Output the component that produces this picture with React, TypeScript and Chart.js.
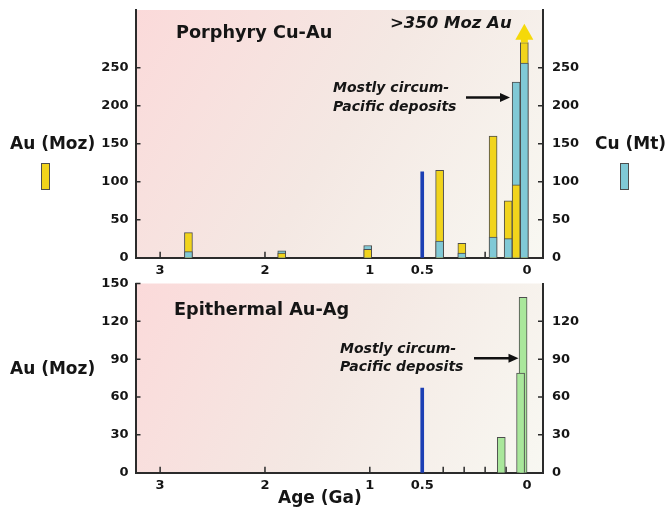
import React, { useEffect, useRef } from 'react';
import { Chart, registerables } from 'chart.js';

Chart.register(...registerables);

// ---------- data ----------
const xTickAges = [3, 2, 1, 0.5, 0];
const xTickLabels = ['3', '2', '1', '0.5', '0'];
const xMinorAges = [3, 2, 1, 0.4, 0.3, 0.2, 0.1];
const xAgeYoungEdge = -0.076;
const xAgeOldEdge = 3.235;

const porphyryAge = [2.73, 1.84, 1.02, 0.417, 0.311, 0.162, 0.09, 0.052, 0.013];
const porphyryAu = [33, 6, 11, 115, 19, 160, 75, 96, 283];
const porphyryCu = [8, 9, 16, 22, 6, 27, 25, 231, 256];
const porphyryTicks = [0, 50, 100, 150, 200, 250];
const porphyryMax = 326;
const porphyryArrowTip = 308; // ">350 Moz Au" arrow reaches this level

const epiAge = [0.123, 0.019, 0.031];
const epiAu = [28, 139, 79];
const epiLeftTicks = [0, 30, 60, 90, 120, 150];
const epiRightTicks = [0, 30, 60, 90, 120];
const epiMax = 150;

const markerAge = 0.5;
const porphyryMarker = 113;
const epiMarker = 67;

// ---------- style ----------
const AXIS_COLOR = '#2b2b2b';
const TEXT_COLOR = '#151515';
const YELLOW = '#f1d41c';
const ARROW_YELLOW = '#f5d90a';
const BLUE = '#80c9d6';
const GREEN = '#a9e79b';
const BAR_EDGE = '#4d4d4d';
const MARKER = '#1c3fb4';
const FONT = '"DejaVu Sans", "Liberation Sans", Arial, sans-serif';
const BOTTOM_TOP = 265;

// broken age axis: 0-0.5 Ga is stretched twice
const ageToU = (a: number) => (a <= 0.5 ? a * 2 : a + 0.5);

const tickFont = { family: FONT, size: 13, weight: 'bold' as const };

function drawText(ctx: CanvasRenderingContext2D, s: string, x: number, y: number, size: number, italic = false) {
  ctx.save();
  ctx.font = `${italic ? 'italic ' : ''}bold ${size}px ${FONT}`;
  ctx.fillStyle = TEXT_COLOR;
  ctx.textAlign = 'left';
  ctx.textBaseline = 'alphabetic';
  ctx.fillText(s, x, y);
  ctx.restore();
}

function drawArrow(ctx: CanvasRenderingContext2D, x1: number, x2: number, y: number) {
  ctx.save();
  ctx.strokeStyle = '#111';
  ctx.fillStyle = '#111';
  ctx.lineWidth = 2.5;
  ctx.beginPath();
  ctx.moveTo(x1, y);
  ctx.lineTo(x2 - 8, y);
  ctx.stroke();
  ctx.beginPath();
  ctx.moveTo(x2, y);
  ctx.lineTo(x2 - 10, y - 4.5);
  ctx.lineTo(x2 - 10, y + 4.5);
  ctx.closePath();
  ctx.fill();
  ctx.restore();
}

function swatch(ctx: CanvasRenderingContext2D, x: number, y: number, w: number, h: number, color: string) {
  ctx.save();
  ctx.fillStyle = color;
  ctx.fillRect(x, y, w, h);
  ctx.strokeStyle = BAR_EDGE;
  ctx.lineWidth = 1;
  ctx.strokeRect(x + 0.5, y + 0.5, w - 1, h - 1);
  ctx.restore();
}

const framePlugin = {
  id: 'frame',
  beforeDraw(chart: any) {
    const { ctx, chartArea: a } = chart;
    const g = ctx.createLinearGradient(a.left, a.top, a.right, a.bottom);
    g.addColorStop(0, '#fbdada');
    g.addColorStop(0.5, '#f4e8e3');
    g.addColorStop(1, '#f8f8f2');
    ctx.save();
    ctx.fillStyle = g;
    ctx.fillRect(a.left, a.top, a.right - a.left, a.bottom - a.top);
    ctx.restore();
  },
  beforeDatasetsDraw(chart: any) {
    const { ctx, chartArea: a, scales } = chart;
    ctx.save();
    ctx.strokeStyle = AXIS_COLOR;
    ctx.lineWidth = 1.5;
    ctx.beginPath();
    xMinorAges.forEach((age) => {
      const px = scales.x.getPixelForValue(ageToU(age));
      ctx.moveTo(px, a.bottom);
      ctx.lineTo(px, a.bottom - 6);
    });
    scales.y.ticks.forEach((t: any) => {
      const py = scales.y.getPixelForValue(t.value);
      ctx.moveTo(a.left, py);
      ctx.lineTo(a.left + 5, py);
    });
    scales.y2.ticks.forEach((t: any) => {
      const py = scales.y2.getPixelForValue(t.value);
      ctx.moveTo(a.right, py);
      ctx.lineTo(a.right - 5, py);
    });
    ctx.stroke();
    ctx.restore();
  },
};

const topOverlay = {
  id: 'topOverlay',
  afterDraw(chart: any) {
    const { ctx, scales } = chart;
    // yellow arrow for the >350 Moz bar
    const i = porphyryAu.length - 1;
    const x = scales.x.getPixelForValue(ageToU(porphyryAge[i]));
    const barTop = scales.y.getPixelForValue(porphyryAu[i]);
    const tip = scales.y.getPixelForValue(porphyryArrowTip);
    ctx.save();
    ctx.fillStyle = ARROW_YELLOW;
    ctx.fillRect(x - 3.5, tip + 15, 7, barTop - tip - 15);
    ctx.beginPath();
    ctx.moveTo(x, tip);
    ctx.lineTo(x - 9, tip + 16);
    ctx.lineTo(x + 9, tip + 16);
    ctx.closePath();
    ctx.fill();
    ctx.restore();

    drawText(ctx, 'Porphyry Cu-Au', 176, 38, 17.7);
    drawText(ctx, '>350 Moz Au', 390, 28, 16.5, true);
    drawText(ctx, 'Mostly circum-', 333, 92, 14, true);
    drawText(ctx, 'Pacific deposits', 333, 110.5, 14, true);
    drawArrow(ctx, 466, 510, 97.5);

    drawText(ctx, 'Au (Moz)', 10, 148.5, 17);
    drawText(ctx, 'Cu (Mt)', 595, 148.5, 17);
    swatch(ctx, 41, 163, 9, 27, YELLOW);
    swatch(ctx, 620, 163, 9, 27, BLUE);
  },
};

const bottomOverlay = {
  id: 'bottomOverlay',
  afterDraw(chart: any) {
    const { ctx } = chart;
    const o = BOTTOM_TOP;
    drawText(ctx, 'Epithermal Au-Ag', 174, 314.5 - o, 17.7);
    drawText(ctx, 'Mostly circum-', 340, 353 - o, 14, true);
    drawText(ctx, 'Pacific deposits', 340, 371 - o, 14, true);
    drawArrow(ctx, 474, 518.5, 358.3 - o);
    drawText(ctx, 'Au (Moz)', 10, 373.5 - o, 17);
    drawText(ctx, 'Age (Ga)', 278, 502.5 - o, 17);
  },
};

function xScale(bottomHeight: number) {
  return {
    type: 'linear' as const,
    reverse: true,
    offset: false,
    min: ageToU(xAgeYoungEdge),
    max: ageToU(xAgeOldEdge),
    grid: { display: false, drawTicks: false },
    border: { display: true, color: AXIS_COLOR, width: 2 },
    afterBuildTicks: (s: any) => {
      s.ticks = xTickAges.map((a) => ({ value: ageToU(a) }));
    },
    afterFit: (s: any) => {
      s.height = bottomHeight;
      s.paddingLeft = 0;
      s.paddingRight = 0;
    },
    ticks: {
      font: tickFont,
      color: TEXT_COLOR,
      padding: 5,
      maxRotation: 0,
      autoSkip: false,
      callback: (v: number) => {
        const k = xTickAges.findIndex((a) => Math.abs(ageToU(a) - v) < 1e-6);
        return k >= 0 ? xTickLabels[k] : '';
      },
    },
  };
}

function yScale(position: 'left' | 'right', max: number, ticks: number[], width: number, pad: number) {
  return {
    type: 'linear' as const,
    position,
    min: 0,
    max,
    grid: { display: false, drawTicks: false },
    border: { display: true, color: AXIS_COLOR, width: 2 },
    afterBuildTicks: (s: any) => {
      s.ticks = ticks.map((v) => ({ value: v }));
    },
    afterFit: (s: any) => {
      s.width = width;
      s.paddingTop = 0;
      s.paddingBottom = 0;
    },
    ticks: { font: tickFont, color: TEXT_COLOR, padding: pad },
  };
}

const barCommon = {
  barThickness: 8,
  grouped: false,
  borderWidth: 1,
  borderColor: BAR_EDGE,
};

function topConfig(): any {
  const pts = (vals: (number | null)[]) => vals.map((v, i) => ({ x: ageToU(porphyryAge[i]), y: v }));
  const auBack = porphyryAu.map((v, i) => (v >= porphyryCu[i] ? v : null));
  const cuBack = porphyryCu.map((v, i) => (v > porphyryAu[i] ? v : null));
  const auFront = porphyryAu.map((v, i) => (v < porphyryCu[i] ? v : null));
  const cuFront = porphyryCu.map((v, i) => (v <= porphyryAu[i] ? v : null));
  return {
    type: 'bar',
    data: {
      datasets: [
        { label: 'Au', data: pts(auBack), backgroundColor: YELLOW, yAxisID: 'y', order: 3, ...barCommon },
        { label: 'Cu', data: pts(cuBack), backgroundColor: BLUE, yAxisID: 'y2', order: 3, ...barCommon },
        { label: 'Au', data: pts(auFront), backgroundColor: YELLOW, yAxisID: 'y', order: 2, ...barCommon },
        { label: 'Cu', data: pts(cuFront), backgroundColor: BLUE, yAxisID: 'y2', order: 2, ...barCommon },
        {
          label: 'marker',
          data: [{ x: ageToU(markerAge), y: porphyryMarker }],
          backgroundColor: MARKER,
          barThickness: 3,
          grouped: false,
          borderWidth: 0,
          yAxisID: 'y',
          order: 1,
        },
      ],
    },
    options: {
      responsive: false,
      animation: false,
      devicePixelRatio: 1,
      layout: { padding: { top: 10, left: 0, right: 0, bottom: 0 } },
      plugins: { legend: { display: false }, tooltip: { enabled: false } },
      scales: {
        x: xScale(280 - 257.7),
        y: yScale('left', porphyryMax, porphyryTicks, 135.5, 7),
        y2: yScale('right', porphyryMax, porphyryTicks, 122, 9),
      },
    },
    plugins: [framePlugin, topOverlay],
  };
}

function bottomConfig(): any {
  return {
    type: 'bar',
    data: {
      datasets: [
        {
          label: 'Au',
          data: epiAu.map((v, i) => ({ x: ageToU(epiAge[i]), y: v })),
          backgroundColor: GREEN,
          yAxisID: 'y',
          order: 2,
          ...barCommon,
        },
        {
          label: 'marker',
          data: [{ x: ageToU(markerAge), y: epiMarker }],
          backgroundColor: MARKER,
          barThickness: 3,
          grouped: false,
          borderWidth: 0,
          yAxisID: 'y',
          order: 1,
        },
      ],
    },
    options: {
      responsive: false,
      animation: false,
      devicePixelRatio: 1,
      layout: { padding: { top: 283.5 - BOTTOM_TOP, left: 0, right: 0, bottom: 0 } },
      plugins: { legend: { display: false }, tooltip: { enabled: false } },
      scales: {
        x: xScale(511 - 472.7),
        y: yScale('left', epiMax, epiLeftTicks, 135.5, 7),
        y2: yScale('right', epiMax, epiRightTicks, 122, 9),
      },
    },
    plugins: [framePlugin, bottomOverlay],
  };
}

export default function App() {
  const topRef = useRef<HTMLCanvasElement>(null);
  const botRef = useRef<HTMLCanvasElement>(null);
  useEffect(() => {
    const c1 = new Chart(topRef.current as HTMLCanvasElement, topConfig());
    const c2 = new Chart(botRef.current as HTMLCanvasElement, bottomConfig());
    return () => {
      c1.destroy();
      c2.destroy();
    };
  }, []);
  return (
    <div style={{ position: 'absolute', left: 0, top: 0, width: 665, height: 511, background: '#fff', overflow: 'hidden' }}>
      <canvas ref={topRef} width={665} height={280} style={{ position: 'absolute', left: 0, top: 0, width: 665, height: 280 }} />
      <canvas
        ref={botRef}
        width={665}
        height={511 - BOTTOM_TOP}
        style={{ position: 'absolute', left: 0, top: BOTTOM_TOP, width: 665, height: 511 - BOTTOM_TOP }}
      />
    </div>
  );
}
